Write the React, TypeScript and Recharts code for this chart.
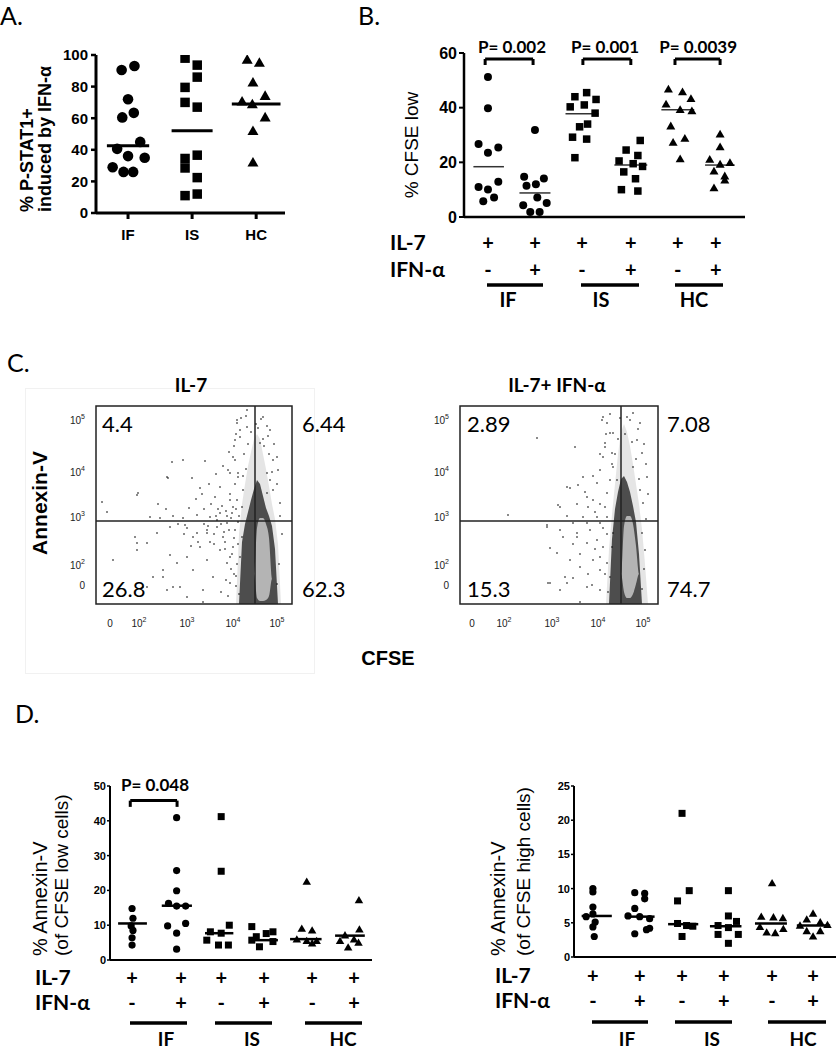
import React from 'react';
import { ScatterChart, ComposedChart, Scatter, Area, XAxis, YAxis, ReferenceLine, ReferenceArea } from 'recharts';

const ARIAL = '"Liberation Sans", Arial, Helvetica, sans-serif';
const CAL = 'Lato, "Open Sans", sans-serif';

// ---------------- Panel A : % P-STAT1+ induced by IFN-α  ([dx, value]) ----------------
const aCategories = ['IF', 'IS', 'HC'];
const aPos = [0, 1, 2];
const aIF = [[-0.1, 90.5], [0.1, 93], [0, 72], [-0.09, 60.5], [0.09, 63.4], [0.19, 45], [-0.17, 40.6], [0, 36], [0.26, 35], [-0.24, 29], [-0.07, 26], [0.08, 26]];
const aIS = [[-0.11, 98], [0.08, 93.6], [0.08, 86], [-0.11, 79.5], [-0.11, 70], [0.08, 67], [0.08, 36.6], [-0.11, 34.5], [-0.11, 28.5], [0.08, 22.4], [-0.11, 11], [0.08, 12]];
const aHC = [[-0.14, 96.5], [0.05, 94.5], [-0.05, 82], [0.14, 73.6], [-0.22, 70], [-0.06, 68.3], [0.14, 60], [-0.05, 51.4], [-0.05, 31.5]];
const aMedian = [[-0.33, 0.33, 42.5], [-0.32, 0.32, 52], [-0.38, 0.38, 69]];

// ---------------- Panel B : % CFSE low ----------------
const bIL7 = ['+', '+', '+', '+', '+', '+'];
const bIFN = ['-', '+', '-', '+', '-', '+'];
const bPos = [0, 1, 2, 3.04, 4.04, 4.85];
const bIFm = [[0, 51.2], [0, 39.8], [-0.2, 26.7], [0.22, 25.4], [0, 23.5], [-0.2, 11], [0, 10.1], [0.22, 12.9], [-0.1, 5.8], [0.13, 7.1]];
const bIFp = [[0, 31.8], [-0.23, 14.7], [0.19, 14.1], [-0.18, 11.4], [0.02, 12], [-0.25, 4.3], [0.05, 7.1], [0.25, 5.1], [-0.1, 1.8], [0.1, 1.8]];
const bISm = [[-0.15, 44], [0.1, 45.5], [0.3, 43], [-0.25, 40.3], [0.05, 41], [0.28, 38], [0.12, 34], [-0.05, 33], [-0.2, 29.2], [0.1, 28.5], [-0.15, 21.7]];
const bISp = [[0.2, 28], [-0.1, 24.5], [0.15, 22.5], [-0.25, 20.5], [0.05, 19.5], [0.25, 18.5], [-0.15, 16.5], [0.1, 14], [-0.2, 10], [0.15, 9.5]];
const bHCm = [[-0.2, 46.5], [0.1, 45.5], [0.28, 43], [-0.25, 41], [0.05, 39], [0.3, 38.5], [-0.15, 33], [0.15, 28.5], [-0.1, 27], [0.05, 21]];
const bHCp = [[0.09, 30], [0.09, 25.4], [-0.13, 20.8], [0.09, 19], [0.3, 19.6], [-0.04, 16.5], [0.19, 14.7], [0.19, 13.2], [-0.04, 10.4]];
const bMedian = [[-0.31, 0.34, 18.4], [-0.33, 0.33, 8.8], [-0.35, 0.35, 37.8], [-0.35, 0.35, 19], [-0.35, 0.35, 39.2], [-0.23, 0.4, 19]];
// brackets: [from, to, top, leg]
const bBrackets = [[-0.06, 0.96, 57.8, 55.6], [2.02, 3.04, 57.8, 55.6], [3.98, 4.94, 57.8, 55.6]];

// ---------------- Panel C : flow plots (channel units) ----------------
const cYTicks = [19, 39, 87, 132, 184];
const cTickExp = ['0', '2', '3', '4', '5'];
const cLeftXTicks = [14, 43, 91, 137, 181];
const cRightXTicks = [12, 44, 92, 138, 183];

const cLeftCfse = [140, 143, 146, 149, 152, 155, 158, 161, 164, 167, 170, 173, 176, 179, 182, 185];
const cLeftMid = [[0, 0], [0, 70], [0, 100], [0, 120], [0, 138], [0, 152], [0, 165], [0, 170], [0, 165], [0, 150], [0, 135], [0, 118], [0, 100], [0, 85], [0, 60], [0, 0]];
const cLeftDense = [[0, 0], [0, 0], [0, 62], [0, 80], [0, 92], [0, 104], [0, 115], [0, 124], [0, 120], [0, 108], [0, 96], [0, 88], [0, 78], [0, 55], [0, 0], [0, 0]];
const cLeftCore = [[30, 30], [30, 30], [30, 30], [30, 30], [30, 30], [30, 30], [30, 30], [6, 76], [3, 86], [3, 86], [4, 80], [8, 66], [25, 25], [25, 25], [25, 25], [25, 25]];
const cLeftSparse = [
  [76, 142], [87, 144], [109, 143], [72, 126], [96, 126], [41, 109], [104, 116], [119, 107], [124, 117], [132, 134], [137, 147], [141, 181],
  [139, 164], [144, 174], [134, 104], [124, 91], [114, 87], [101, 89], [87, 86], [77, 88], [64, 86], [54, 87], [39, 67], [51, 61],
  [61, 71], [74, 77], [91, 76], [101, 71], [111, 74], [121, 77], [127, 67], [114, 62], [104, 57], [91, 47], [81, 41], [67, 34],
  [57, 27], [97, 34], [111, 44], [124, 54], [131, 41], [117, 27], [134, 21], [84, 17], [107, 14], [71, 14], [47, 17], [174, 174],
  [181, 147], [171, 131], [177, 114], [184, 101], [167, 187], [164, 161], [151, 194], [134, 131], [142, 127], [147, 114], [141, 104],
  [146, 97], [136, 91], [142, 82], [131, 81], [139, 74], [146, 67], [137, 57], [144, 47], [134, 47], [6, 102], [11, 92], [42, 111],
  [71, 127], [17, 44], [41, 61], [41, 54], [74, 49], [67, 27], [91, 7], [51, 17], [77, 17], [107, 2], [89, 79], [97, 67], [111, 71],
  [121, 84], [131, 88], [137, 97], [134, 110], [139, 120], [142, 131], [139, 144], [144, 167], [141, 184], [151, 177], [171, 178],
  [167, 165], [177, 144], [182, 134], [174, 124], [171, 111], [118, 60], [128, 72], [108, 80], [122, 95], [129, 62], [135, 35], [140, 28],
  [108, 95], [115, 100], [120, 88], [126, 98], [130, 93], [135, 86], [140, 95], [143, 88], [112, 78], [118, 70], [125, 80], [133, 74],
  [138, 66], [142, 60], [129, 55], [136, 50], [141, 40], [138, 30], [130, 24], [125, 12], [132, 8], [140, 18], [143, 10], [102, 62],
  [95, 58], [88, 70], [82, 80], [70, 95], [62, 100], [93, 96], [100, 105], [106, 110], [113, 120], [120, 130], [127, 138], [133, 152],
  [138, 158], [140, 170], [145, 186], [150, 188], [160, 180], [165, 185], [172, 168], [178, 160], [181, 120], [184, 88], [186, 70],
  [183, 40], [181, 20], [148, 150], [152, 160], [155, 172], [162, 176], [168, 158], [173, 150], [176, 132], [150, 135], [147, 128],
];

const cRightCfse = [146, 149, 152, 155, 158, 161, 164, 167, 170, 173, 176, 179, 182, 185, 188];
const cRightMid = [[0, 0], [0, 55], [0, 90], [0, 120], [0, 150], [0, 172], [0, 180], [0, 172], [0, 158], [0, 140], [0, 120], [0, 100], [0, 75], [0, 40], [0, 0]];
const cRightDense = [[0, 0], [0, 0], [0, 65], [0, 95], [0, 112], [0, 125], [0, 128], [0, 122], [0, 112], [0, 98], [0, 82], [0, 50], [0, 0], [0, 0], [0, 0]];
const cRightCore = [[30, 30], [30, 30], [30, 30], [30, 30], [30, 30], [30, 30], [12, 78], [6, 88], [6, 88], [10, 80], [20, 58], [30, 30], [30, 30], [30, 30], [30, 30]];
const cRightSparse = [
  [77, 166], [100, 97], [110, 116], [118, 119], [123, 127], [127, 107], [133, 104], [137, 121], [140, 134], [143, 147], [145, 161],
  [147, 181], [143, 187], [150, 171], [152, 151], [153, 137], [157, 124], [167, 187], [173, 191], [180, 181], [177, 164], [182, 151],
  [173, 137], [187, 127], [180, 114], [183, 101], [87, 77], [100, 74], [113, 81], [123, 87], [130, 74], [140, 81], [147, 87], [117, 67],
  [127, 61], [137, 64], [143, 57], [97, 51], [110, 44], [120, 37], [133, 44], [140, 34], [90, 21], [107, 21], [100, 14], [127, 17],
  [140, 14], [147, 41], [150, 27], [152, 57], [153, 71], [48, 89], [115, 157], [107, 117], [98, 99], [87, 79], [90, 56], [88, 21],
  [105, 27], [113, 26], [120, 2], [132, 19], [103, 67], [117, 71], [127, 81], [137, 87], [145, 97], [147, 111], [150, 124], [142, 184],
  [145, 157], [153, 171], [182, 71], [185, 54], [128, 97], [135, 92], [140, 100], [143, 76], [147, 70], [135, 55], [140, 47], [145, 30],
  [148, 12], [128, 30], [120, 50], [113, 60], [107, 88], [117, 100], [125, 112], [133, 128], [140, 150], [146, 170], [150, 190],
  [160, 186], [170, 184], [178, 175], [184, 160], [186, 140], [188, 110], [186, 85], [184, 35], [182, 15], [155, 150], [158, 165],
  [165, 170], [172, 162], [176, 145], [179, 125], [152, 140],
];

// ---------------- Panel D : % Annexin-V ----------------
const dLPos = [0, 1.09, 1.98, 2.93, 4.0, 4.93];
const dLeft = [
  [[0, 14.8], [0.02, 12], [-0.02, 9.8], [0.02, 8.5], [0, 6.4], [0, 4.3]],
  [[-0.1, 40.9], [-0.1, 25.7], [-0.1, 19.9], [-0.28, 16.3], [-0.1, 15.5], [0.1, 15.5], [0.1, 10.5], [-0.3, 9.8], [-0.1, 7.7], [-0.1, 3.1]],
  [[0, 41.2], [0, 25.5], [0.18, 10], [-0.24, 8.1], [0, 7.7], [-0.32, 5.7], [-0.06, 4.3], [0.16, 4.3]],
  [[-0.27, 9.6], [0.2, 8.1], [0.05, 7.6], [-0.17, 6.7], [-0.27, 5.7], [0.2, 5.3], [-0.1, 3.8]],
  [[-0.12, 22.3], [-0.23, 8.8], [0, 8.3], [-0.34, 5.7], [-0.12, 5.3], [0.1, 5.3], [0, 4.6]],
  [[0.11, 17], [0.12, 8.6], [-0.2, 6.9], [0, 5.7], [-0.31, 5.3], [0.1, 4.8], [-0.13, 3.4]],
];
const dLMedian = [[-0.31, 0.33, 10.5], [-0.43, 0.24, 15.6], [-0.36, 0.27, 7.7], [-0.31, 0.31, 5.7], [-0.49, 0.21, 6], [-0.42, 0.24, 7]];
const dLBrackets = [[-0.04, 1.0, 45.8, 44.0]];

const dRPos = [0, 1.04, 1.98, 2.91, 3.98, 4.89];
const dRight = [
  [[0, 10], [0, 9.5], [0, 7.3], [0, 6.3], [-0.15, 5.9], [0.05, 5.1], [0, 4.4], [0.03, 3]],
  [[-0.11, 9.4], [0.11, 9.3], [0.11, 8.5], [-0.11, 7.1], [-0.26, 6], [0, 5.9], [0.22, 5.6], [0.22, 4.2], [-0.11, 3.4], [0.15, 4]],
  [[0, 21], [0.16, 9.7], [-0.1, 8.2], [-0.1, 4.9], [0.1, 4.6], [0.24, 4.5], [0, 3]],
  [[0.1, 9.7], [0.1, 6], [0.28, 5.2], [-0.13, 4.6], [0.1, 4.3], [-0.13, 3.3], [0.32, 3.3], [0.1, 2]],
  [[0, 10.7], [-0.24, 5.8], [0.03, 5.7], [0.24, 5.6], [-0.27, 4.3], [-0.12, 3.5], [0.07, 3.4], [0.25, 4]],
  [[0, 6.25], [-0.14, 5.4], [0.16, 5], [0.32, 4.6], [-0.29, 4.5], [-0.14, 3.7], [0.16, 3.7], [0, 2.9]],
];
const dRMedian = [[-0.25, 0.42, 6], [-0.33, 0.33, 5.9], [-0.31, 0.36, 4.8], [-0.31, 0.39, 4.5], [-0.38, 0.33, 4.9], [-0.36, 0.38, 4.6]];

// ---------------- marker shapes ----------------
const circle = (r: number) => (p: any) => <circle cx={p.cx} cy={p.cy} r={r} fill="#000" />;
const square = (s: number) => (p: any) => <rect x={p.cx - s / 2} y={p.cy - s / 2} width={s} height={s} fill="#000" />;
const triangle = (s: number) => (p: any) => {
  const h = s * 0.866;
  return <polygon points={`${p.cx},${p.cy - (2 * h) / 3} ${p.cx - s / 2},${p.cy + h / 3} ${p.cx + s / 2},${p.cy + h / 3}`} fill="#000" />;
};
const pixel = (p: any) => <rect x={p.cx - 0.7} y={p.cy - 0.7} width={1.4} height={1.4} fill="#111" />;

const PL = 70, PT = 20, PR = 12, PB = 100, YW = 60, XH = 80;

type Box = { x: number; y: number; w: number; h: number };

function DotPlot(props: any) {
  const { box, xDomain, yDomain, yTicks, pos, series, shapes, medians, medianColor, medianWidth, axisWidth, yTickSize, yTickMargin, yTickFont, xTick, xTickLine, xTickSize, brackets } = props;
  const b: Box = box;
  return (
    <div style={{ position: 'absolute', left: b.x - PL, top: b.y - PT }}>
      <ScatterChart width={b.w + PL + PR} height={b.h + PT + PB} margin={{ top: PT, right: PR, bottom: PB - XH, left: PL - YW }}>
        <XAxis type="number" dataKey="x" domain={xDomain} ticks={pos} interval={0} height={XH} allowDataOverflow
          axisLine={{ stroke: '#000', strokeWidth: axisWidth }}
          tickLine={xTickLine ? { stroke: '#000', strokeWidth: axisWidth } : false}
          tickSize={xTickSize || 6} tick={xTick} />
        <YAxis type="number" dataKey="y" domain={yDomain} ticks={yTicks} interval={0} width={YW} allowDataOverflow
          axisLine={{ stroke: '#000', strokeWidth: axisWidth }}
          tickLine={{ stroke: '#000', strokeWidth: Math.max(1.5, axisWidth - 0.5) }}
          tickSize={yTickSize} tickMargin={yTickMargin}
          tick={{ fill: '#000', fontFamily: ARIAL, fontWeight: 700, fontSize: yTickFont }} />
        {series.map((pts: number[][], i: number) => (
          <Scatter key={'s' + i} data={pts.map(([dx, v]) => ({ x: pos[i] + dx, y: v }))} shape={shapes[i]} isAnimationActive={false} />
        ))}
        {medians.map((m: number[], i: number) => (
          <ReferenceLine key={'m' + i} segment={[{ x: pos[i] + m[0], y: m[2] }, { x: pos[i] + m[1], y: m[2] }]} stroke={medianColor} strokeWidth={medianWidth} />
        ))}
        {(brackets || []).map((br: number[], i: number) => (
          <React.Fragment key={'b' + i}>
            <ReferenceLine segment={[{ x: br[0], y: br[2] }, { x: br[1], y: br[2] }]} stroke="#000" strokeWidth={3} />
            <ReferenceLine segment={[{ x: br[0], y: br[2] }, { x: br[0], y: br[3] }]} stroke="#000" strokeWidth={3} />
            <ReferenceLine segment={[{ x: br[1], y: br[2] }, { x: br[1], y: br[3] }]} stroke="#000" strokeWidth={3} />
          </React.Fragment>
        ))}
      </ScatterChart>
    </div>
  );
}

const pmTick = (il7: string[], ifn: string[], y0: number, d1: number, d2: number) => (p: any) => (
  <g>
    <text x={p.x} y={y0 + d1} textAnchor="middle" fontSize={20} fontWeight={700} fontFamily={CAL} fill="#000">{il7[p.index]}</text>
    <text x={p.x} y={y0 + d2} textAnchor="middle" fontSize={20} fontWeight={700} fontFamily={CAL} fill="#000">{ifn[p.index]}</text>
  </g>
);

const powLabel = (e: string) => (e === '0' ? '0' : <>10<tspan dy={-5} fontSize={7}>{e}</tspan></>);

function FlowPlot(props: any) {
  const { box, cfse, mid, dense, core, sparse, xTicks, gateX } = props;
  const b: Box = box;
  const L = 40, T = 10, R = 10, B = 40;
  const rows = cfse.map((c: number, i: number) => ({ cfse: c, mid: mid[i], dense: dense[i], core: core[i] }));
  const xTick = (p: any) => (
    <text x={p.x} y={T + b.h + 23} textAnchor="middle" fontSize={10} fontFamily={ARIAL} fill="#222">{powLabel(cTickExp[p.index])}</text>
  );
  const yTick = (p: any) => (
    <text x={L - 11} y={p.y + 4} textAnchor="end" fontSize={10} fontFamily={ARIAL} fill="#222">{powLabel(cTickExp[p.index])}</text>
  );
  return (
    <div style={{ position: 'absolute', left: b.x - L, top: b.y - T }}>
      <ComposedChart width={b.w + L + R} height={b.h + T + B} data={rows} margin={{ top: T, right: R, bottom: B - 30, left: L - 30 }}>
        <XAxis type="number" dataKey="cfse" domain={[0, b.w]} ticks={xTicks} interval={0} height={30} allowDataOverflow axisLine={false} tickLine={false} tick={xTick} />
        <YAxis type="number" dataKey="ann" domain={[0, b.h]} ticks={cYTicks} interval={0} width={30} allowDataOverflow axisLine={false} tickLine={false} tick={yTick} />
        <Area type="linear" dataKey="mid" stroke="none" fill="#000" fillOpacity={0.1} dot={false} activeDot={false} isAnimationActive={false} />
        <Area type="linear" dataKey="dense" stroke="none" fill="#222" fillOpacity={0.78} dot={false} activeDot={false} isAnimationActive={false} />
        <Area type="monotone" dataKey="core" stroke="none" fill="#b4b4b4" fillOpacity={1} dot={false} activeDot={false} isAnimationActive={false} />
        <Scatter data={sparse.map(([c, a]: number[]) => ({ cfse: c, ann: a }))} shape={pixel} isAnimationActive={false} />
        <ReferenceLine x={gateX} stroke="#222" strokeWidth={1.5} />
        <ReferenceLine y={83} stroke="#222" strokeWidth={1.5} />
        <ReferenceArea x1={0} x2={b.w} y1={0} y2={b.h} fill="none" stroke="#222" strokeWidth={1.5} />
      </ComposedChart>
    </div>
  );
}

function T(props: any) {
  const { x, y, size, bold, anchor, font, rot, children } = props;
  return (
    <text x={x} y={y} fontSize={size} fontWeight={bold ? 700 : 400} textAnchor={anchor || 'start'} fontFamily={font === 'arial' ? ARIAL : CAL}
      fill="#000" transform={rot ? `rotate(-90 ${x} ${y})` : undefined}>{children}</text>
  );
}

export default function App() {
  const boxA = { x: 96, y: 55, w: 189, h: 158 };
  const boxB = { x: 464, y: 53, w: 281, h: 164 };
  const boxDL = { x: 110, y: 786, w: 262, h: 174 };
  const boxDR = { x: 574, y: 786, w: 262, h: 171 };

  const aTick = (p: any) => (
    <text x={p.x} y={PT + boxA.h + 27} textAnchor="middle" fontSize={15} fontWeight={700} fontFamily={ARIAL} fill="#000">{aCategories[p.index]}</text>
  );

  const underline = (x1: number, x2: number, y: number) => <line x1={x1} x2={x2} y1={y} y2={y} stroke="#000" strokeWidth={3.5} />;

  return (
    <div style={{ position: 'absolute', left: 0, top: 0, width: 838, height: 1050, overflow: 'hidden', background: '#fff' }}>
      <div style={{ position: 'absolute', left: 25, top: 388, width: 288, height: 284, border: '1px solid #f1f1f1' }} />

      <DotPlot box={boxA} xDomain={[-0.5, 2.45]} yDomain={[0, 100]} yTicks={[0, 20, 40, 60, 80, 100]} pos={aPos}
        series={[aIF, aIS, aHC]} shapes={[circle(5.3), square(9.5), triangle(11)]} medians={aMedian} medianColor="#000" medianWidth={3}
        axisWidth={3} yTickSize={5} yTickMargin={3} yTickFont={15} xTick={aTick} xTickLine xTickSize={6} />

      <DotPlot box={boxB} xDomain={[-0.51, 5.47]} yDomain={[0, 60]} yTicks={[0, 20, 40, 60]} pos={bPos}
        series={[bIFm, bIFp, bISm, bISp, bHCm, bHCp]} shapes={[circle(4), circle(4), square(7.5), square(7.5), triangle(9), triangle(9)]}
        medians={bMedian} medianColor="#333" medianWidth={1.5} axisWidth={2.5} yTickSize={5} yTickMargin={2} yTickFont={16}
        xTick={pmTick(bIL7, bIFN, PT + boxB.h, 33, 60)} brackets={bBrackets} />

      <FlowPlot box={{ x: 96, y: 406, w: 196, h: 198 }} cfse={cLeftCfse} mid={cLeftMid} dense={cLeftDense} core={cLeftCore}
        sparse={cLeftSparse} xTicks={cLeftXTicks} gateX={159} />
      <FlowPlot box={{ x: 460, y: 406, w: 198, h: 198 }} cfse={cRightCfse} mid={cRightMid} dense={cRightDense} core={cRightCore}
        sparse={cRightSparse} xTicks={cRightXTicks} gateX={161} />

      <DotPlot box={boxDL} xDomain={[-0.49, 5.33]} yDomain={[0, 50]} yTicks={[0, 10, 20, 30, 40, 50]} pos={dLPos}
        series={dLeft} shapes={[circle(3.6), circle(3.6), square(7), square(7), triangle(8.5), triangle(8.5)]}
        medians={dLMedian} medianColor="#000" medianWidth={2.5} axisWidth={2} yTickSize={3} yTickMargin={1} yTickFont={11}
        xTick={pmTick(bIL7, bIFN, PT + boxDL.h, 25, 50)} brackets={dLBrackets} />

      <DotPlot box={boxDR} xDomain={[-0.42, 5.4]} yDomain={[0, 25]} yTicks={[0, 5, 10, 15, 20, 25]} pos={dRPos}
        series={dRight} shapes={[circle(3.6), circle(3.6), square(7), square(7), triangle(8.5), triangle(8.5)]}
        medians={dRMedian} medianColor="#000" medianWidth={2.5} axisWidth={2} yTickSize={3} yTickMargin={1} yTickFont={11}
        xTick={pmTick(bIL7, bIFN, PT + boxDR.h, 26, 51)} />

      <svg width={838} height={1050} style={{ position: 'absolute', left: 0, top: 0, pointerEvents: 'none' }}>
        {/* panel letters */}
        <T x={0} y={25} size={25}>A.</T>
        <T x={358} y={25} size={25}>B.</T>
        <T x={7} y={372} size={25}>C.</T>
        <T x={15} y={723} size={25}>D.</T>

        {/* A */}
        <T x={33} y={212} size={18} bold font="arial" rot>% P-STAT1+</T>
        <T x={51} y={212} size={18} bold font="arial" rot>induced by IFN-α</T>

        {/* B */}
        <T x={418} y={145} size={19} font="arial" anchor="middle" rot>% CFSE low</T>
        <T x={390} y={250} size={21} bold>IL-7</T>
        <T x={390} y={277} size={21} bold>IFN-α</T>
        {underline(487, 543, 285)}
        {underline(581, 639, 285)}
        {underline(675, 723, 285)}
        <T x={508} y={307} size={20} bold anchor="middle">IF</T>
        <T x={601} y={307} size={20} bold anchor="middle">IS</T>
        <T x={694} y={307} size={20} bold anchor="middle">HC</T>
        <T x={512} y={53} size={17} bold anchor="middle">P= 0.002</T>
        <T x={605} y={53} size={17} bold anchor="middle">P= 0.001</T>
        <T x={737} y={53} size={17} bold anchor="end">P= 0.0039</T>

        {/* C */}
        <T x={191} y={392} size={19} bold anchor="middle">IL-7</T>
        <T x={557} y={392} size={19} bold anchor="middle">IL-7+ IFN-α</T>
        <T x={102} y={432} size={22}>4.4</T>
        <T x={302} y={432} size={22}>6.44</T>
        <T x={102} y={597} size={22}>26.8</T>
        <T x={302} y={597} size={22}>62.3</T>
        <T x={467} y={432} size={22}>2.89</T>
        <T x={667} y={432} size={22}>7.08</T>
        <T x={467} y={597} size={22}>15.3</T>
        <T x={667} y={597} size={22}>74.7</T>
        <T x={47} y={503} size={21} bold font="arial" anchor="middle" rot>Annexin-V</T>
        <T x={388} y={665} size={20} bold font="arial" anchor="middle">CFSE</T>

        {/* D left */}
        <T x={47} y={956} size={20} font="arial" rot>% Annexin-V</T>
        <T x={68} y={956} size={19} font="arial" rot>(of CFSE low cells)</T>
        <T x={35} y={985} size={21} bold>IL-7</T>
        <T x={35} y={1010} size={21} bold>IFN-α</T>
        {underline(130, 187, 1023)}
        {underline(215, 272, 1023)}
        {underline(305, 362, 1023)}
        <T x={166} y={1046} size={19} bold anchor="middle">IF</T>
        <T x={252} y={1046} size={19} bold anchor="middle">IS</T>
        <T x={343} y={1046} size={19} bold anchor="middle">HC</T>
        <T x={155} y={791} size={17} bold anchor="middle">P= 0.048</T>

        {/* D right */}
        <T x={505} y={956} size={20} font="arial" rot>% Annexin-V</T>
        <T x={530} y={956} size={19} font="arial" rot>(of CFSE high cells)</T>
        <T x={495} y={983} size={21} bold>IL-7</T>
        <T x={495} y={1008} size={21} bold>IFN-α</T>
        {underline(592, 648, 1022)}
        {underline(675, 732, 1022)}
        {underline(768, 826, 1022)}
        <T x={627} y={1046} size={19} bold anchor="middle">IF</T>
        <T x={712} y={1046} size={19} bold anchor="middle">IS</T>
        <T x={803} y={1046} size={19} bold anchor="middle">HC</T>
      </svg>
    </div>
  );
}
